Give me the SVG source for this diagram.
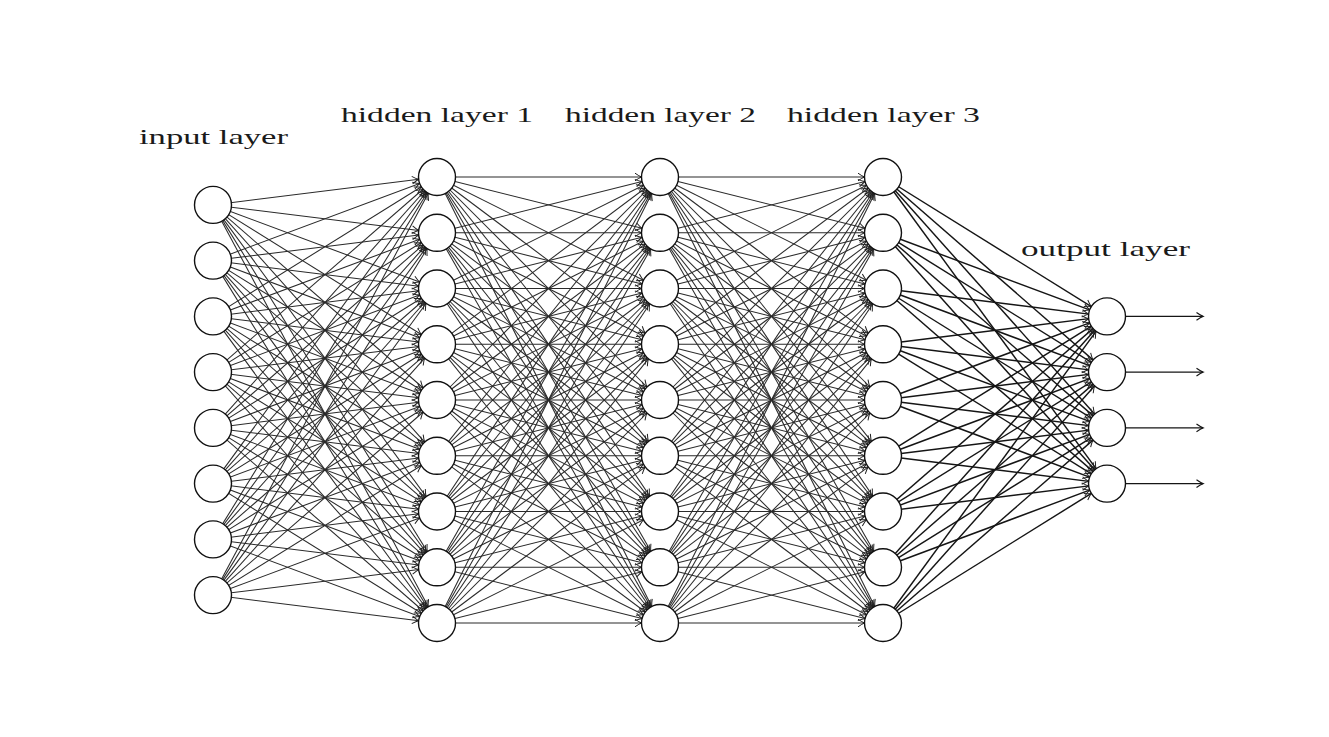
<svg xmlns="http://www.w3.org/2000/svg" width="1329" height="737" viewBox="0 0 1329 737">
<style>
.e line{stroke:#2a2a2a;stroke-width:1.05;fill:none;marker-end:url(#a)}
.e .s line{stroke:#151515;stroke-width:1.45}
.e line.o{marker-end:url(#b);stroke:#151515;stroke-width:1.2}
.n circle{fill:#fff;stroke:#111;stroke-width:1.4}
text{font-family:"Liberation Serif","DejaVu Serif",serif;font-size:22px;fill:#1a1a1a;text-anchor:middle}
</style>
<defs>
<marker id="a" markerUnits="userSpaceOnUse" markerWidth="10" markerHeight="10" refX="18.5" refY="0" orient="auto" overflow="visible">
<path d="M-6.5,-3.8 Q-2.2,-0.8 0,0 Q-2.2,0.8 -6.5,3.8" fill="none" stroke="#222" stroke-width="1"/>
</marker>
<marker id="b" markerUnits="userSpaceOnUse" markerWidth="10" markerHeight="10" refX="0" refY="0" orient="auto" overflow="visible">
<path d="M-6.5,-3.8 Q-2.2,-0.8 0,0 Q-2.2,0.8 -6.5,3.8" fill="none" stroke="#151515" stroke-width="1.2"/>
</marker>
</defs>
<rect width="1329" height="737" fill="#fff"/>
<g id="connectors" class="e">
<line x1="213" y1="204.9" x2="437" y2="177"/><line x1="213" y1="204.9" x2="437" y2="232.8"/><line x1="213" y1="204.9" x2="437" y2="288.5"/><line x1="213" y1="204.9" x2="437" y2="344.3"/><line x1="213" y1="204.9" x2="437" y2="400"/><line x1="213" y1="204.9" x2="437" y2="455.8"/><line x1="213" y1="204.9" x2="437" y2="511.5"/><line x1="213" y1="204.9" x2="437" y2="567.3"/><line x1="213" y1="204.9" x2="437" y2="623"/>
<line x1="213" y1="260.6" x2="437" y2="177"/><line x1="213" y1="260.6" x2="437" y2="232.8"/><line x1="213" y1="260.6" x2="437" y2="288.5"/><line x1="213" y1="260.6" x2="437" y2="344.3"/><line x1="213" y1="260.6" x2="437" y2="400"/><line x1="213" y1="260.6" x2="437" y2="455.8"/><line x1="213" y1="260.6" x2="437" y2="511.5"/><line x1="213" y1="260.6" x2="437" y2="567.3"/><line x1="213" y1="260.6" x2="437" y2="623"/>
<line x1="213" y1="316.4" x2="437" y2="177"/><line x1="213" y1="316.4" x2="437" y2="232.8"/><line x1="213" y1="316.4" x2="437" y2="288.5"/><line x1="213" y1="316.4" x2="437" y2="344.3"/><line x1="213" y1="316.4" x2="437" y2="400"/><line x1="213" y1="316.4" x2="437" y2="455.8"/><line x1="213" y1="316.4" x2="437" y2="511.5"/><line x1="213" y1="316.4" x2="437" y2="567.3"/><line x1="213" y1="316.4" x2="437" y2="623"/>
<line x1="213" y1="372.1" x2="437" y2="177"/><line x1="213" y1="372.1" x2="437" y2="232.8"/><line x1="213" y1="372.1" x2="437" y2="288.5"/><line x1="213" y1="372.1" x2="437" y2="344.3"/><line x1="213" y1="372.1" x2="437" y2="400"/><line x1="213" y1="372.1" x2="437" y2="455.8"/><line x1="213" y1="372.1" x2="437" y2="511.5"/><line x1="213" y1="372.1" x2="437" y2="567.3"/><line x1="213" y1="372.1" x2="437" y2="623"/>
<line x1="213" y1="427.9" x2="437" y2="177"/><line x1="213" y1="427.9" x2="437" y2="232.8"/><line x1="213" y1="427.9" x2="437" y2="288.5"/><line x1="213" y1="427.9" x2="437" y2="344.3"/><line x1="213" y1="427.9" x2="437" y2="400"/><line x1="213" y1="427.9" x2="437" y2="455.8"/><line x1="213" y1="427.9" x2="437" y2="511.5"/><line x1="213" y1="427.9" x2="437" y2="567.3"/><line x1="213" y1="427.9" x2="437" y2="623"/>
<line x1="213" y1="483.6" x2="437" y2="177"/><line x1="213" y1="483.6" x2="437" y2="232.8"/><line x1="213" y1="483.6" x2="437" y2="288.5"/><line x1="213" y1="483.6" x2="437" y2="344.3"/><line x1="213" y1="483.6" x2="437" y2="400"/><line x1="213" y1="483.6" x2="437" y2="455.8"/><line x1="213" y1="483.6" x2="437" y2="511.5"/><line x1="213" y1="483.6" x2="437" y2="567.3"/><line x1="213" y1="483.6" x2="437" y2="623"/>
<line x1="213" y1="539.4" x2="437" y2="177"/><line x1="213" y1="539.4" x2="437" y2="232.8"/><line x1="213" y1="539.4" x2="437" y2="288.5"/><line x1="213" y1="539.4" x2="437" y2="344.3"/><line x1="213" y1="539.4" x2="437" y2="400"/><line x1="213" y1="539.4" x2="437" y2="455.8"/><line x1="213" y1="539.4" x2="437" y2="511.5"/><line x1="213" y1="539.4" x2="437" y2="567.3"/><line x1="213" y1="539.4" x2="437" y2="623"/>
<line x1="213" y1="595.1" x2="437" y2="177"/><line x1="213" y1="595.1" x2="437" y2="232.8"/><line x1="213" y1="595.1" x2="437" y2="288.5"/><line x1="213" y1="595.1" x2="437" y2="344.3"/><line x1="213" y1="595.1" x2="437" y2="400"/><line x1="213" y1="595.1" x2="437" y2="455.8"/><line x1="213" y1="595.1" x2="437" y2="511.5"/><line x1="213" y1="595.1" x2="437" y2="567.3"/><line x1="213" y1="595.1" x2="437" y2="623"/>
<line x1="437" y1="177" x2="660" y2="177"/><line x1="437" y1="177" x2="660" y2="232.8"/><line x1="437" y1="177" x2="660" y2="288.5"/><line x1="437" y1="177" x2="660" y2="344.3"/><line x1="437" y1="177" x2="660" y2="400"/><line x1="437" y1="177" x2="660" y2="455.8"/><line x1="437" y1="177" x2="660" y2="511.5"/><line x1="437" y1="177" x2="660" y2="567.3"/><line x1="437" y1="177" x2="660" y2="623"/>
<line x1="437" y1="232.8" x2="660" y2="177"/><line x1="437" y1="232.8" x2="660" y2="232.8"/><line x1="437" y1="232.8" x2="660" y2="288.5"/><line x1="437" y1="232.8" x2="660" y2="344.3"/><line x1="437" y1="232.8" x2="660" y2="400"/><line x1="437" y1="232.8" x2="660" y2="455.8"/><line x1="437" y1="232.8" x2="660" y2="511.5"/><line x1="437" y1="232.8" x2="660" y2="567.3"/><line x1="437" y1="232.8" x2="660" y2="623"/>
<line x1="437" y1="288.5" x2="660" y2="177"/><line x1="437" y1="288.5" x2="660" y2="232.8"/><line x1="437" y1="288.5" x2="660" y2="288.5"/><line x1="437" y1="288.5" x2="660" y2="344.3"/><line x1="437" y1="288.5" x2="660" y2="400"/><line x1="437" y1="288.5" x2="660" y2="455.8"/><line x1="437" y1="288.5" x2="660" y2="511.5"/><line x1="437" y1="288.5" x2="660" y2="567.3"/><line x1="437" y1="288.5" x2="660" y2="623"/>
<line x1="437" y1="344.3" x2="660" y2="177"/><line x1="437" y1="344.3" x2="660" y2="232.8"/><line x1="437" y1="344.3" x2="660" y2="288.5"/><line x1="437" y1="344.3" x2="660" y2="344.3"/><line x1="437" y1="344.3" x2="660" y2="400"/><line x1="437" y1="344.3" x2="660" y2="455.8"/><line x1="437" y1="344.3" x2="660" y2="511.5"/><line x1="437" y1="344.3" x2="660" y2="567.3"/><line x1="437" y1="344.3" x2="660" y2="623"/>
<line x1="437" y1="400" x2="660" y2="177"/><line x1="437" y1="400" x2="660" y2="232.8"/><line x1="437" y1="400" x2="660" y2="288.5"/><line x1="437" y1="400" x2="660" y2="344.3"/><line x1="437" y1="400" x2="660" y2="400"/><line x1="437" y1="400" x2="660" y2="455.8"/><line x1="437" y1="400" x2="660" y2="511.5"/><line x1="437" y1="400" x2="660" y2="567.3"/><line x1="437" y1="400" x2="660" y2="623"/>
<line x1="437" y1="455.8" x2="660" y2="177"/><line x1="437" y1="455.8" x2="660" y2="232.8"/><line x1="437" y1="455.8" x2="660" y2="288.5"/><line x1="437" y1="455.8" x2="660" y2="344.3"/><line x1="437" y1="455.8" x2="660" y2="400"/><line x1="437" y1="455.8" x2="660" y2="455.8"/><line x1="437" y1="455.8" x2="660" y2="511.5"/><line x1="437" y1="455.8" x2="660" y2="567.3"/><line x1="437" y1="455.8" x2="660" y2="623"/>
<line x1="437" y1="511.5" x2="660" y2="177"/><line x1="437" y1="511.5" x2="660" y2="232.8"/><line x1="437" y1="511.5" x2="660" y2="288.5"/><line x1="437" y1="511.5" x2="660" y2="344.3"/><line x1="437" y1="511.5" x2="660" y2="400"/><line x1="437" y1="511.5" x2="660" y2="455.8"/><line x1="437" y1="511.5" x2="660" y2="511.5"/><line x1="437" y1="511.5" x2="660" y2="567.3"/><line x1="437" y1="511.5" x2="660" y2="623"/>
<line x1="437" y1="567.3" x2="660" y2="177"/><line x1="437" y1="567.3" x2="660" y2="232.8"/><line x1="437" y1="567.3" x2="660" y2="288.5"/><line x1="437" y1="567.3" x2="660" y2="344.3"/><line x1="437" y1="567.3" x2="660" y2="400"/><line x1="437" y1="567.3" x2="660" y2="455.8"/><line x1="437" y1="567.3" x2="660" y2="511.5"/><line x1="437" y1="567.3" x2="660" y2="567.3"/><line x1="437" y1="567.3" x2="660" y2="623"/>
<line x1="437" y1="623" x2="660" y2="177"/><line x1="437" y1="623" x2="660" y2="232.8"/><line x1="437" y1="623" x2="660" y2="288.5"/><line x1="437" y1="623" x2="660" y2="344.3"/><line x1="437" y1="623" x2="660" y2="400"/><line x1="437" y1="623" x2="660" y2="455.8"/><line x1="437" y1="623" x2="660" y2="511.5"/><line x1="437" y1="623" x2="660" y2="567.3"/><line x1="437" y1="623" x2="660" y2="623"/>
<line x1="660" y1="177" x2="883" y2="177"/><line x1="660" y1="177" x2="883" y2="232.8"/><line x1="660" y1="177" x2="883" y2="288.5"/><line x1="660" y1="177" x2="883" y2="344.3"/><line x1="660" y1="177" x2="883" y2="400"/><line x1="660" y1="177" x2="883" y2="455.8"/><line x1="660" y1="177" x2="883" y2="511.5"/><line x1="660" y1="177" x2="883" y2="567.3"/><line x1="660" y1="177" x2="883" y2="623"/>
<line x1="660" y1="232.8" x2="883" y2="177"/><line x1="660" y1="232.8" x2="883" y2="232.8"/><line x1="660" y1="232.8" x2="883" y2="288.5"/><line x1="660" y1="232.8" x2="883" y2="344.3"/><line x1="660" y1="232.8" x2="883" y2="400"/><line x1="660" y1="232.8" x2="883" y2="455.8"/><line x1="660" y1="232.8" x2="883" y2="511.5"/><line x1="660" y1="232.8" x2="883" y2="567.3"/><line x1="660" y1="232.8" x2="883" y2="623"/>
<line x1="660" y1="288.5" x2="883" y2="177"/><line x1="660" y1="288.5" x2="883" y2="232.8"/><line x1="660" y1="288.5" x2="883" y2="288.5"/><line x1="660" y1="288.5" x2="883" y2="344.3"/><line x1="660" y1="288.5" x2="883" y2="400"/><line x1="660" y1="288.5" x2="883" y2="455.8"/><line x1="660" y1="288.5" x2="883" y2="511.5"/><line x1="660" y1="288.5" x2="883" y2="567.3"/><line x1="660" y1="288.5" x2="883" y2="623"/>
<line x1="660" y1="344.3" x2="883" y2="177"/><line x1="660" y1="344.3" x2="883" y2="232.8"/><line x1="660" y1="344.3" x2="883" y2="288.5"/><line x1="660" y1="344.3" x2="883" y2="344.3"/><line x1="660" y1="344.3" x2="883" y2="400"/><line x1="660" y1="344.3" x2="883" y2="455.8"/><line x1="660" y1="344.3" x2="883" y2="511.5"/><line x1="660" y1="344.3" x2="883" y2="567.3"/><line x1="660" y1="344.3" x2="883" y2="623"/>
<line x1="660" y1="400" x2="883" y2="177"/><line x1="660" y1="400" x2="883" y2="232.8"/><line x1="660" y1="400" x2="883" y2="288.5"/><line x1="660" y1="400" x2="883" y2="344.3"/><line x1="660" y1="400" x2="883" y2="400"/><line x1="660" y1="400" x2="883" y2="455.8"/><line x1="660" y1="400" x2="883" y2="511.5"/><line x1="660" y1="400" x2="883" y2="567.3"/><line x1="660" y1="400" x2="883" y2="623"/>
<line x1="660" y1="455.8" x2="883" y2="177"/><line x1="660" y1="455.8" x2="883" y2="232.8"/><line x1="660" y1="455.8" x2="883" y2="288.5"/><line x1="660" y1="455.8" x2="883" y2="344.3"/><line x1="660" y1="455.8" x2="883" y2="400"/><line x1="660" y1="455.8" x2="883" y2="455.8"/><line x1="660" y1="455.8" x2="883" y2="511.5"/><line x1="660" y1="455.8" x2="883" y2="567.3"/><line x1="660" y1="455.8" x2="883" y2="623"/>
<line x1="660" y1="511.5" x2="883" y2="177"/><line x1="660" y1="511.5" x2="883" y2="232.8"/><line x1="660" y1="511.5" x2="883" y2="288.5"/><line x1="660" y1="511.5" x2="883" y2="344.3"/><line x1="660" y1="511.5" x2="883" y2="400"/><line x1="660" y1="511.5" x2="883" y2="455.8"/><line x1="660" y1="511.5" x2="883" y2="511.5"/><line x1="660" y1="511.5" x2="883" y2="567.3"/><line x1="660" y1="511.5" x2="883" y2="623"/>
<line x1="660" y1="567.3" x2="883" y2="177"/><line x1="660" y1="567.3" x2="883" y2="232.8"/><line x1="660" y1="567.3" x2="883" y2="288.5"/><line x1="660" y1="567.3" x2="883" y2="344.3"/><line x1="660" y1="567.3" x2="883" y2="400"/><line x1="660" y1="567.3" x2="883" y2="455.8"/><line x1="660" y1="567.3" x2="883" y2="511.5"/><line x1="660" y1="567.3" x2="883" y2="567.3"/><line x1="660" y1="567.3" x2="883" y2="623"/>
<line x1="660" y1="623" x2="883" y2="177"/><line x1="660" y1="623" x2="883" y2="232.8"/><line x1="660" y1="623" x2="883" y2="288.5"/><line x1="660" y1="623" x2="883" y2="344.3"/><line x1="660" y1="623" x2="883" y2="400"/><line x1="660" y1="623" x2="883" y2="455.8"/><line x1="660" y1="623" x2="883" y2="511.5"/><line x1="660" y1="623" x2="883" y2="567.3"/><line x1="660" y1="623" x2="883" y2="623"/>
<g class="s">
<line x1="883" y1="177" x2="1107" y2="316.4"/><line x1="883" y1="177" x2="1107" y2="372.1"/><line x1="883" y1="177" x2="1107" y2="427.9"/><line x1="883" y1="177" x2="1107" y2="483.6"/>
<line x1="883" y1="232.8" x2="1107" y2="316.4"/><line x1="883" y1="232.8" x2="1107" y2="372.1"/><line x1="883" y1="232.8" x2="1107" y2="427.9"/><line x1="883" y1="232.8" x2="1107" y2="483.6"/>
<line x1="883" y1="288.5" x2="1107" y2="316.4"/><line x1="883" y1="288.5" x2="1107" y2="372.1"/><line x1="883" y1="288.5" x2="1107" y2="427.9"/><line x1="883" y1="288.5" x2="1107" y2="483.6"/>
<line x1="883" y1="344.3" x2="1107" y2="316.4"/><line x1="883" y1="344.3" x2="1107" y2="372.1"/><line x1="883" y1="344.3" x2="1107" y2="427.9"/><line x1="883" y1="344.3" x2="1107" y2="483.6"/>
<line x1="883" y1="400" x2="1107" y2="316.4"/><line x1="883" y1="400" x2="1107" y2="372.1"/><line x1="883" y1="400" x2="1107" y2="427.9"/><line x1="883" y1="400" x2="1107" y2="483.6"/>
<line x1="883" y1="455.8" x2="1107" y2="316.4"/><line x1="883" y1="455.8" x2="1107" y2="372.1"/><line x1="883" y1="455.8" x2="1107" y2="427.9"/><line x1="883" y1="455.8" x2="1107" y2="483.6"/>
<line x1="883" y1="511.5" x2="1107" y2="316.4"/><line x1="883" y1="511.5" x2="1107" y2="372.1"/><line x1="883" y1="511.5" x2="1107" y2="427.9"/><line x1="883" y1="511.5" x2="1107" y2="483.6"/>
<line x1="883" y1="567.3" x2="1107" y2="316.4"/><line x1="883" y1="567.3" x2="1107" y2="372.1"/><line x1="883" y1="567.3" x2="1107" y2="427.9"/><line x1="883" y1="567.3" x2="1107" y2="483.6"/>
<line x1="883" y1="623" x2="1107" y2="316.4"/><line x1="883" y1="623" x2="1107" y2="372.1"/><line x1="883" y1="623" x2="1107" y2="427.9"/><line x1="883" y1="623" x2="1107" y2="483.6"/>
</g>
<line class="o" x1="1125.5" y1="316.4" x2="1203" y2="316.4"/><line class="o" x1="1125.5" y1="372.1" x2="1203" y2="372.1"/><line class="o" x1="1125.5" y1="427.9" x2="1203" y2="427.9"/><line class="o" x1="1125.5" y1="483.6" x2="1203" y2="483.6"/>
</g>
<g class="n">
<g id="in1"><circle cx="213" cy="204.9" r="18.5"/></g>
<g id="in2"><circle cx="213" cy="260.6" r="18.5"/></g>
<g id="in3"><circle cx="213" cy="316.4" r="18.5"/></g>
<g id="in4"><circle cx="213" cy="372.1" r="18.5"/></g>
<g id="in5"><circle cx="213" cy="427.9" r="18.5"/></g>
<g id="in6"><circle cx="213" cy="483.6" r="18.5"/></g>
<g id="in7"><circle cx="213" cy="539.4" r="18.5"/></g>
<g id="in8"><circle cx="213" cy="595.1" r="18.5"/></g>
<g id="h1n1"><circle cx="437" cy="177" r="18.5"/></g>
<g id="h1n2"><circle cx="437" cy="232.8" r="18.5"/></g>
<g id="h1n3"><circle cx="437" cy="288.5" r="18.5"/></g>
<g id="h1n4"><circle cx="437" cy="344.3" r="18.5"/></g>
<g id="h1n5"><circle cx="437" cy="400" r="18.5"/></g>
<g id="h1n6"><circle cx="437" cy="455.8" r="18.5"/></g>
<g id="h1n7"><circle cx="437" cy="511.5" r="18.5"/></g>
<g id="h1n8"><circle cx="437" cy="567.3" r="18.5"/></g>
<g id="h1n9"><circle cx="437" cy="623" r="18.5"/></g>
<g id="h2n1"><circle cx="660" cy="177" r="18.5"/></g>
<g id="h2n2"><circle cx="660" cy="232.8" r="18.5"/></g>
<g id="h2n3"><circle cx="660" cy="288.5" r="18.5"/></g>
<g id="h2n4"><circle cx="660" cy="344.3" r="18.5"/></g>
<g id="h2n5"><circle cx="660" cy="400" r="18.5"/></g>
<g id="h2n6"><circle cx="660" cy="455.8" r="18.5"/></g>
<g id="h2n7"><circle cx="660" cy="511.5" r="18.5"/></g>
<g id="h2n8"><circle cx="660" cy="567.3" r="18.5"/></g>
<g id="h2n9"><circle cx="660" cy="623" r="18.5"/></g>
<g id="h3n1"><circle cx="883" cy="177" r="18.5"/></g>
<g id="h3n2"><circle cx="883" cy="232.8" r="18.5"/></g>
<g id="h3n3"><circle cx="883" cy="288.5" r="18.5"/></g>
<g id="h3n4"><circle cx="883" cy="344.3" r="18.5"/></g>
<g id="h3n5"><circle cx="883" cy="400" r="18.5"/></g>
<g id="h3n6"><circle cx="883" cy="455.8" r="18.5"/></g>
<g id="h3n7"><circle cx="883" cy="511.5" r="18.5"/></g>
<g id="h3n8"><circle cx="883" cy="567.3" r="18.5"/></g>
<g id="h3n9"><circle cx="883" cy="623" r="18.5"/></g>
<g id="out1"><circle cx="1107" cy="316.4" r="18.5"/></g>
<g id="out2"><circle cx="1107" cy="372.1" r="18.5"/></g>
<g id="out3"><circle cx="1107" cy="427.9" r="18.5"/></g>
<g id="out4"><circle cx="1107" cy="483.6" r="18.5"/></g>
</g>
<g id="labels">
<text x="213.5" y="144" textLength="149" lengthAdjust="spacingAndGlyphs">input layer</text>
<text x="437" y="122" textLength="192" lengthAdjust="spacingAndGlyphs">hidden layer 1</text>
<text x="660.5" y="122" textLength="191" lengthAdjust="spacingAndGlyphs">hidden layer 2</text>
<text x="883.5" y="122" textLength="193" lengthAdjust="spacingAndGlyphs">hidden layer 3</text>
<text x="1105.5" y="256" textLength="169" lengthAdjust="spacingAndGlyphs">output layer</text>
</g>
</svg>
